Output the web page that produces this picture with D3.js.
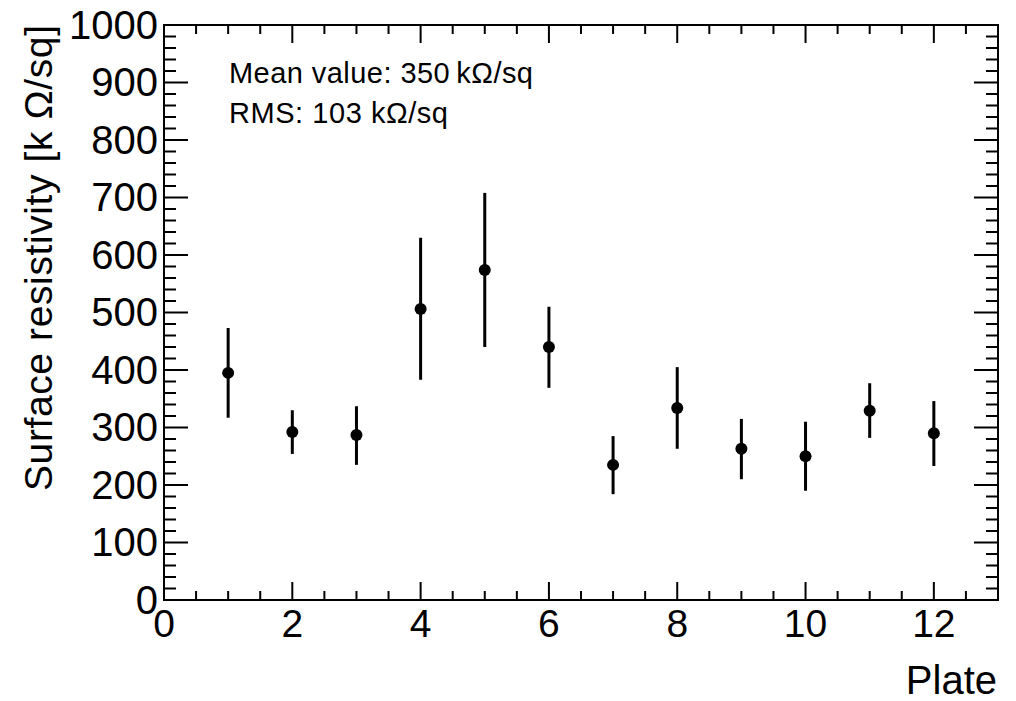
<!DOCTYPE html>
<html><head><meta charset="utf-8">
<script src="https://cdn.jsdelivr.net/npm/d3@7"></script>
<style>body{margin:0;background:#fff}svg{display:block}text{font-family:"Liberation Sans",Arial,sans-serif;fill:#000}</style>
</head><body><svg id="c" width="1016" height="701"></svg>
<script>
const plates = [1,2,3,4,5,6,7,8,9,10,11,12];
const resistivity = [395,292,287,506,574,440,235,334,263,250,329,290];
const errUpper = [473,330,337,630,708,510,285,405,315,310,377,346];
const errLower = [317,254,235,383,440,369,184,263,210,190,282,233];
const xTicks = [0,2,4,6,8,10,12];
const yTicks = [0,100,200,300,400,500,600,700,800,900,1000];
const statLines = ["Mean value: 350\u2009k\u03A9/sq","RMS: 103 k\u03A9/sq"];

const svg = d3.select("#c");
const L=164, R=998, T=25, B=600;
const x = d3.scaleLinear().domain([0,13]).range([L,R]);
const y = d3.scaleLinear().domain([0,1000]).range([B,T]);

const g = svg.append("g");
const xMinor = d3.range(0,13.01,0.5);
const yMinor = d3.range(0,1000.1,20);
const tk = g.append("g").attr("stroke","#000").attr("stroke-width",2);
xMinor.forEach(v=>{
  const major = Math.abs(v/2-Math.round(v/2))<1e-9;
  const len = major?18:9;
  tk.append("line").attr("x1",x(v)).attr("x2",x(v)).attr("y1",B).attr("y2",B-len);
  tk.append("line").attr("x1",x(v)).attr("x2",x(v)).attr("y1",T).attr("y2",T+len);
});
yMinor.forEach(v=>{
  const major = Math.abs(v%100)<1e-9;
  const len = major?24:12;
  tk.append("line").attr("x1",L).attr("x2",L+len).attr("y1",y(v)).attr("y2",y(v));
  tk.append("line").attr("x1",R).attr("x2",R-len).attr("y1",y(v)).attr("y2",y(v));
});
g.append("rect").attr("x",L).attr("y",T).attr("width",R-L).attr("height",B-T)
 .attr("fill","none").attr("stroke","#000").attr("stroke-width",2);

g.selectAll(".xl").data(xTicks).join("text").attr("x",d=>x(d)).attr("y",637)
 .attr("text-anchor","middle").style("font-size","39px").text(d=>d);
g.selectAll(".yl").data(yTicks).join("text").attr("x",158).attr("y",d=>y(d)+13.5)
 .attr("text-anchor","end").style("font-size","40px").text(d=>d);

g.append("text").attr("x",997).attr("y",694).attr("text-anchor","end").style("font-size","40px").text("Plate");
g.append("text").attr("transform","translate(52,25) rotate(-90)").attr("text-anchor","end")
 .style("font-size","39px").attr("textLength",466).attr("lengthAdjust","spacing")
 .text("Surface resistivity [k \u03A9/sq]");

g.selectAll(".st").data(statLines).join("text").attr("x",229).attr("y",(d,i)=>83+i*40)
 .style("font-size","29px").attr("textLength",(d,i)=>i===0?304:219).attr("lengthAdjust","spacing").text(d=>d);

const pts = plates.map((p,i)=>({p,v:resistivity[i],lo:errLower[i],hi:errUpper[i]}));
g.selectAll(".eb").data(pts).join("line").attr("x1",d=>x(d.p)).attr("x2",d=>x(d.p))
 .attr("y1",d=>y(d.lo)).attr("y2",d=>y(d.hi)).attr("stroke","#000").attr("stroke-width",3);
g.selectAll(".pt").data(pts).join("circle").attr("cx",d=>x(d.p)).attr("cy",d=>y(d.v))
 .attr("r",6).attr("fill","#000");
</script></body></html>
